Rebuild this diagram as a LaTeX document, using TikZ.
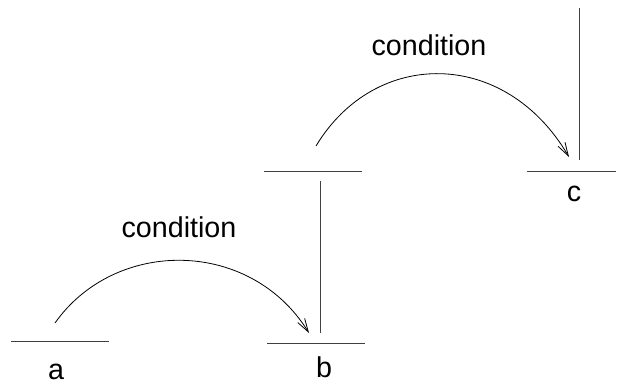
\documentclass[tikz,border=0pt]{standalone}
\usepackage{fontspec}
\setmainfont{Liberation Sans}
\usetikzlibrary{arrows.meta}
\begin{document}
\begin{tikzpicture}[x=0.75pt,y=-0.75pt,
  bar/.style={line width=0.7pt,draw=black!75},
  trans/.style={line width=0.6pt,-{Straight Barb[length=10pt,width=6pt]}},
  lbl/.style={font=\fontsize{21.5}{24}\selectfont,inner sep=0pt}]
\useasboundingbox (0,0) rectangle (617,385);
% state bars
\coordinate (aL) at (11,341); \coordinate (aR) at (109,341);
\coordinate (bL) at (267,343); \coordinate (bR) at (365,343);
\coordinate (mL) at (264,171); \coordinate (mR) at (362,171);
\coordinate (cL) at (527,171); \coordinate (cR) at (616,171);
\draw[bar] (aL) -- (aR);
\draw[bar] (bL) -- (bR);
\draw[bar] (mL) -- (mR);
\draw[bar] (cL) -- (cR);
% vertical lines
\coordinate (v1t) at (320,181); \coordinate (v1b) at (320,333);
\coordinate (v2t) at (579,8); \coordinate (v2b) at (579,160);
\draw[bar] (v1t) -- (v1b);
\draw[bar] (v2t) -- (v2b);
% labels
\node[lbl] (la) at (56,372) {a};
\node[lbl] (lb) at (324,367) {b};
\node[lbl] (lc) at (574,194) {c};
\node[lbl] (c1) at (179,227) {condition};
\node[lbl] (c2) at (429,45) {condition};
% transitions
\coordinate (s1) at (55,323); \coordinate (e1) at (309,333);
\coordinate (s2) at (316,146); \coordinate (e2) at (569,157);
\draw[trans] (s1) .. controls (115,238) and (250,238) .. (e1);
\draw[trans] (s2) .. controls (375,48) and (505,48) .. (e2);
\end{tikzpicture}
\end{document}
